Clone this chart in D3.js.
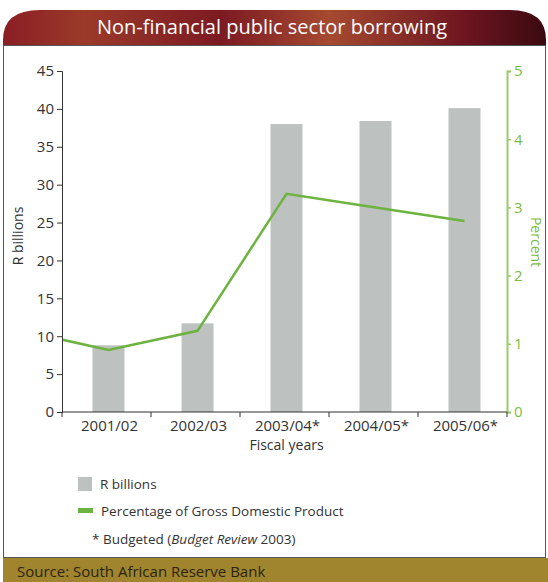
<!DOCTYPE html>
<html>
<head>
<meta charset="utf-8">
<script src="https://cdn.jsdelivr.net/npm/d3@7"></script>
<style>
  body { margin: 0; background: #fff; }
  svg { display: block; font-family: "Open Sans", "DejaVu Sans", sans-serif; }
</style>
</head>
<body>
<svg id="chart" width="548" height="582"></svg>
<script>
const years = ["2001/02", "2002/03", "2003/04*", "2004/05*", "2005/06*"];
const billions = [8.8, 11.7, 38.0, 38.4, 40.1];
// first value is 2000/01, which sits left of the axis and is clipped
const gdpPct = [1.2, 0.91, 1.19, 3.2, 3.0, 2.8];
const leftTicks = [0, 5, 10, 15, 20, 25, 30, 35, 40, 45];
const rightTicks = [0, 1, 2, 3, 4, 5];

const margin = { top: 71, left: 62 };
const chartWidth = 445;
const chartHeight = 341;

const barColor = "#bdc1c0";
const lineColor = "#6db33f";
const rightAxisColor = "#97cc6c";
const textColor = "#333";

const svg = d3.select("#chart");

// header
const defs = svg.append("defs");
const hdr = defs.append("linearGradient").attr("id", "hdr").attr("x1", 0).attr("x2", 1);
hdr.append("stop").attr("offset", "0%").attr("stop-color", "#8a1e24");
hdr.append("stop").attr("offset", "15%").attr("stop-color", "#9b3a2a");
hdr.append("stop").attr("offset", "40%").attr("stop-color", "#7c1a22");
hdr.append("stop").attr("offset", "60%").attr("stop-color", "#a54a30");
hdr.append("stop").attr("offset", "85%").attr("stop-color", "#6e1520");
hdr.append("stop").attr("offset", "100%").attr("stop-color", "#3a0a10");

svg.append("path")
  .attr("d", "M3,46 L3,40 Q3,10 40,10 L510,10 Q546,10 546,40 L546,46 Z")
  .attr("fill", "url(#hdr)");
svg.append("text")
  .attr("x", 272).attr("y", 34)
  .attr("text-anchor", "middle")
  .attr("fill", "#fff")
  .attr("font-size", 20)
  .text("Non-financial public sector borrowing");

// frame
svg.append("rect")
  .attr("x", 3.5).attr("y", 45.5).attr("width", 542).attr("height", 512)
  .attr("fill", "none").attr("stroke", "#555").attr("stroke-width", 1);

// source bar
svg.append("rect")
  .attr("x", 3).attr("y", 558).attr("width", 545).attr("height", 24)
  .attr("fill", "#a0852e");
svg.append("text")
  .attr("x", 17).attr("y", 577)
  .attr("fill", "#2a2410").attr("font-size", 15)
  .text("Source: South African Reserve Bank");

const chart = svg.append("g")
  .attr("transform", `translate(${margin.left},${margin.top})`);

const x = d3.scaleBand().domain(years).range([0, chartWidth]).paddingInner(0).paddingOuter(0);
const xPos = d3.scaleLinear().domain([0, years.length]).range([0, chartWidth]);
const y = d3.scaleLinear().domain([0, 45]).range([chartHeight, 0]);
const yPct = d3.scaleLinear().domain([0, 5]).range([chartHeight, 0]);

// bars
const barWidth = 32;
chart.selectAll("rect.bar")
  .data(years)
  .join("rect")
  .attr("class", "bar")
  .attr("x", (d) => x(d) + x.bandwidth() / 2 - barWidth / 2 + 2)
  .attr("width", barWidth)
  .attr("y", (d, i) => y(billions[i]))
  .attr("height", (d, i) => chartHeight - y(billions[i]))
  .attr("fill", barColor);

// line, clipped to the plot area
defs.append("clipPath").attr("id", "plot")
  .append("rect").attr("x", 0).attr("y", -5).attr("width", chartWidth).attr("height", chartHeight + 10);

const line = d3.line()
  .x((d, i) => xPos(i - 1 + 0.5) + 2)
  .y((d) => yPct(d));

chart.append("path")
  .datum(gdpPct)
  .attr("clip-path", "url(#plot)")
  .attr("fill", "none")
  .attr("stroke", lineColor)
  .attr("stroke-width", 2.5)
  .attr("d", line);

// left axis
const yAxisG = chart.append("g")
  .call(d3.axisLeft(y).tickValues(leftTicks).tickSize(5).tickPadding(3));
yAxisG.select(".domain").attr("stroke", textColor);
yAxisG.selectAll(".tick line").attr("stroke", textColor);
yAxisG.selectAll(".tick text").attr("fill", textColor).attr("font-size", 15)
  .attr("font-family", "Open Sans, sans-serif");

// right axis
const yRightG = chart.append("g")
  .attr("transform", `translate(${chartWidth},0)`)
  .call(d3.axisRight(yPct).tickValues(rightTicks).tickFormat(d3.format("d")).tickSize(4).tickPadding(3));
yRightG.select(".domain").attr("stroke", rightAxisColor).attr("stroke-width", 2);
yRightG.selectAll(".tick line").attr("stroke", rightAxisColor).attr("stroke-width", 1.5);
yRightG.selectAll(".tick text").attr("fill", "#7dbb48").attr("font-size", 15)
  .attr("font-family", "Open Sans, sans-serif");

// bottom axis
const xAxisG = chart.append("g")
  .attr("transform", `translate(0,${chartHeight})`);
xAxisG.append("line")
  .attr("x1", 0).attr("x2", chartWidth)
  .attr("stroke", textColor).attr("stroke-width", 1.2);
xAxisG.selectAll("line.tick")
  .data(d3.range(years.length + 1))
  .join("line")
  .attr("class", "tick")
  .attr("x1", (d) => xPos(d)).attr("x2", (d) => xPos(d))
  .attr("y1", 0).attr("y2", 5)
  .attr("stroke", textColor);
xAxisG.selectAll("text.lbl")
  .data(years)
  .join("text")
  .attr("class", "lbl")
  .attr("x", (d) => x(d) + x.bandwidth() / 2 + 3)
  .attr("y", 19)
  .attr("text-anchor", "middle")
  .attr("fill", textColor)
  .attr("font-size", 15)
  .text((d) => d);

chart.append("text")
  .attr("x", chartWidth / 2 + 2).attr("y", chartHeight + 38)
  .attr("text-anchor", "middle")
  .attr("fill", textColor).attr("font-size", 14)
  .text("Fiscal years");

svg.append("text")
  .attr("transform", "translate(23,236) rotate(-90)")
  .attr("text-anchor", "middle")
  .attr("fill", textColor).attr("font-size", 14)
  .text("R billions");

svg.append("text")
  .attr("transform", "translate(531,242) rotate(90)")
  .attr("text-anchor", "middle")
  .attr("fill", "#7dbb48").attr("font-size", 14)
  .text("Percent");

// legend
const legend = svg.append("g").attr("transform", "translate(78,477)");
legend.append("rect").attr("x", 0).attr("y", 0).attr("width", 14).attr("height", 14).attr("fill", barColor);
legend.append("text").attr("x", 22).attr("y", 12).attr("fill", textColor).attr("font-size", 13.5).text("R billions");
legend.append("rect").attr("x", 0).attr("y", 31).attr("width", 15).attr("height", 5).attr("fill", lineColor);
legend.append("text").attr("x", 23).attr("y", 39).attr("fill", textColor).attr("font-size", 13.5)
  .text("Percentage of Gross Domestic Product");
const note = legend.append("text").attr("x", 14).attr("y", 67).attr("fill", textColor).attr("font-size", 13.5);
note.append("tspan").text("* Budgeted (");
note.append("tspan").attr("font-style", "italic").text("Budget Review");
note.append("tspan").text(" 2003)");
</script>
</body>
</html>
